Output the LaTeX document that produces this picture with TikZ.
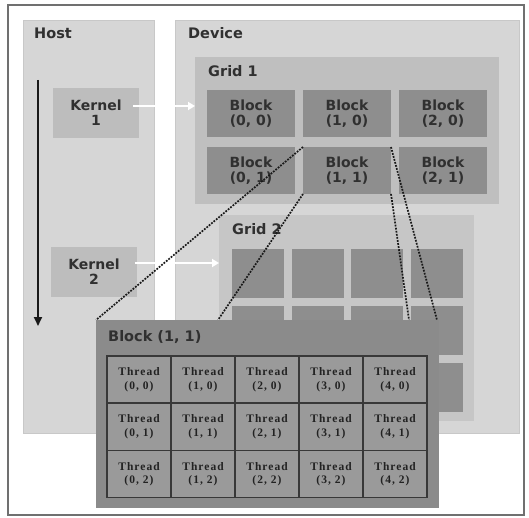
\documentclass[tikz,border=0pt]{standalone}
\usepackage{fontspec}
\usetikzlibrary{arrows.meta,calc}
\newfontfamily\titlefont{DejaVu Sans}[BoldFont={DejaVu Sans Bold}]
\newfontfamily\threadfont{Liberation Serif}[LetterSpace=9]

\definecolor{framegray}{HTML}{707070}
\definecolor{panelgray}{HTML}{D6D6D6}
\definecolor{panelline}{HTML}{C8C8C8}
\definecolor{gridgray}{HTML}{BFBFBF}
\definecolor{gridtwo}{HTML}{C6C6C6}
\definecolor{kernelgray}{HTML}{BDBDBD}
\definecolor{blockgray}{HTML}{8E8E8E}
\definecolor{bigblock}{HTML}{8B8B8B}
\definecolor{threadcell}{HTML}{9A9A9A}
\definecolor{textgray}{HTML}{303030}
\definecolor{threadink}{HTML}{222222}
\definecolor{linegray}{HTML}{383838}

\tikzset{
  box/.style={anchor=north west, inner sep=0pt, outer sep=0pt},
  panel/.style={box, fill=panelgray, draw=panelline, line width=0.8pt},
  title/.style={anchor=base west, inner sep=0pt, text=textgray,
    font=\titlefont\bfseries\fontsize{14.5}{16}\selectfont},
  kernelbox/.style={box, fill=kernelgray, minimum width=86pt, minimum height=50pt},
  blockbox/.style={box, fill=blockgray, minimum width=88pt, minimum height=47pt},
  gridcell/.style={box, fill=blockgray, minimum width=52pt, minimum height=49pt},
  threadbox/.style={box, fill=threadcell, draw=linegray, line width=1.5pt,
    minimum width=64pt, minimum height=47pt},
  celltext/.style={align=center, text=textgray,
    font=\titlefont\bfseries\fontsize{14}{15}\selectfont},
  threadtext/.style={align=center, text=threadink,
    font=\threadfont\bfseries\fontsize{11.5}{13.5}\selectfont},
  launch/.style={draw=white, line width=2.6pt, -{Triangle[length=7pt,width=8pt]}},
  zoomline/.style={draw=black!90, line width=1.7pt, dash pattern=on 1.8pt off 1.3pt},
  timeline/.style={draw=black!90, line width=1.8pt, -{Triangle[length=9pt,width=8pt]}}
}

\begin{document}
\begin{tikzpicture}[x=1pt,y=-1pt]
  \useasboundingbox (0,0) rectangle (529,518);
  \fill[white] (0,0) rectangle (529,518);

  % outer frame
  \node[box, draw=framegray, line width=2.6pt, minimum width=516pt, minimum height=510pt] (frame) at (8,5) {};

  % host and device panels
  \node[panel, minimum width=131pt, minimum height=413pt] (host) at (23,20) {};
  \node[panel, minimum width=344pt, minimum height=413pt] (device) at (175,20) {};
  \node[title] (hosttitle) at (34,39) {Host};
  \node[title] (devtitle) at (188,39) {Device};

  % kernels on the host
  \node[kernelbox] (k1) at (53,88) {};
  \node[celltext] (k1text) at (k1.center) {Kernel\\1};
  \node[kernelbox] (k2) at (51,247) {};
  \node[celltext] (k2text) at (k2.center) {Kernel\\2};

  % execution order
  \coordinate (tstart) at (38,80);
  \coordinate (tend) at (38,326);
  \draw[timeline] (tstart) -- (tend);

  % grid 1
  \node[box, fill=gridgray, minimum width=304pt, minimum height=147pt] (g1) at (195,57) {};
  \node[title] (g1title) at (208,77) {Grid 1};
  \foreach \i in {0,1,2}{
    \foreach \j in {0,1}{
      \node[blockbox] (b\i\j) at ({207+96*\i},{90+57*\j}) {};
      \node[celltext] at (b\i\j.center) {Block\\(\i, \j)};
    }
  }

  % grid 2
  \node[box, fill=gridtwo, minimum width=255pt, minimum height=206pt] (g2) at (219,215) {};
  \node[title] (g2title) at (232,235) {Grid 2};
  \foreach \i in {0,1,2,3}{
    \foreach \j in {0,1,2}{
      \node[gridcell] (c\i\j) at ({232+59.5*\i},{249+57*\j}) {};
    }
  }

  % kernel launches
  \coordinate (k1out) at ([xshift=-6pt,yshift=7pt]k1.east);
  \coordinate (k2out) at ([xshift=-2pt,yshift=9pt]k2.east);
  \draw[launch] (k1out) -- (k1out -| g1.west);
  \draw[launch] (k2out) -- (k2out -| g2.west);

  % zoom lines from Block (1, 1)
  \coordinate (zbl) at (218,320);
  \coordinate (zbr) at (409,320);
  \node[box, minimum width=343pt, minimum height=188pt] (big) at (96,320) {};
  \draw[zoomline] (b11.north west) -- (big.north west);
  \draw[zoomline] (b11.south west) -- (zbl);
  \draw[zoomline] (b11.north east) -- ([xshift=-2pt]big.north east);
  \draw[zoomline] (b11.south east) -- (zbr);

  % expanded Block (1, 1)
  \fill[bigblock] (big.north west) rectangle (big.south east);
  \node[title] (bigtitle) at (108,341) {Block (1, 1)};
  \foreach \i in {0,...,4}{
    \foreach \j in {0,1,2}{
      \node[threadbox] (t\i\j) at ({107+64*\i},{356+47.3*\j}) {};
      \node[threadtext] at (t\i\j.center) {Thread\\(\i, \j)};
    }
  }
\end{tikzpicture}
\end{document}
